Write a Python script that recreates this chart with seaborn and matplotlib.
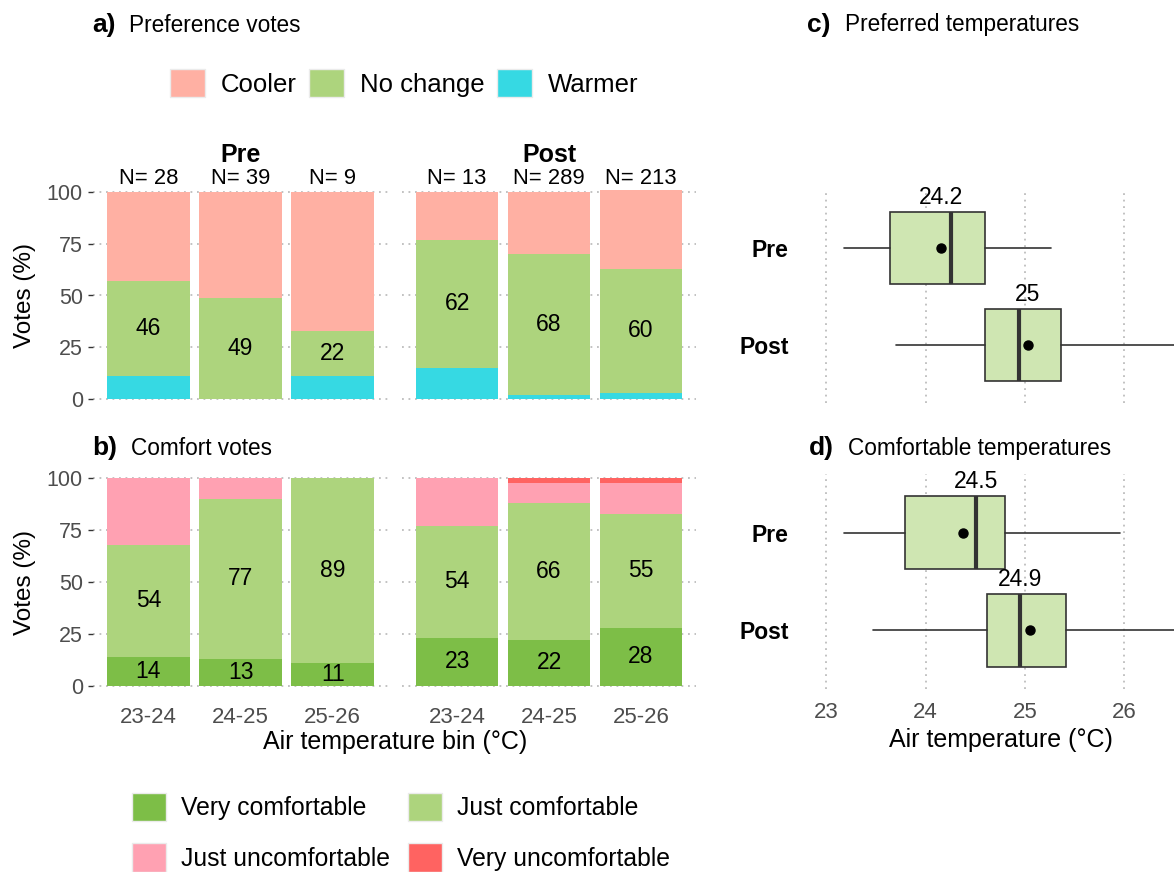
import numpy as np
import matplotlib
matplotlib.use('Agg')
import matplotlib.pyplot as plt
from matplotlib.patches import Patch
import seaborn as sns

# ---- data ----
bins = ['23-24', '24-25', '25-26']
groups = ['Pre', 'Post']
pre_n = [28, 39, 9]
post_n = [13, 289, 213]

# a) preference votes (%)
pre_warmer = [11, 0, 11]
pre_nochange = [46, 49, 22]
pre_cooler = [43, 51, 67]
post_warmer = [15, 2, 3]
post_nochange = [62, 68, 60]
post_cooler = [23, 30, 38]

# b) comfort votes (%)
pre_very_comf = [14, 13, 11]
pre_just_comf = [54, 77, 89]
pre_just_uncomf = [32, 10, 0]
pre_very_uncomf = [0, 0, 0]
post_very_comf = [23, 22, 28]
post_just_comf = [54, 66, 55]
post_just_uncomf = [23, 10, 15]
post_very_uncomf = [0, 2, 2]

# c) preferred temperatures (Pre, Post)
pref_whislo = [23.18, 23.70]
pref_q1 = [23.64, 24.60]
pref_med = [24.25, 24.94]
pref_q3 = [24.60, 25.36]
pref_whishi = [25.26, 26.80]
pref_mean = [24.15, 25.03]
pref_labels = ['24.2', '25']

# d) comfortable temperatures (Pre, Post)
comf_whislo = [23.18, 23.47]
comf_q1 = [23.79, 24.62]
comf_med = [24.51, 24.95]
comf_q3 = [24.80, 25.41]
comf_whishi = [25.96, 26.80]
comf_mean = [24.38, 25.05]
comf_labels = ['24.5', '24.9']

pref_colors = ['#36D9E3', '#ADD47D', '#FFB0A3']          # warmer, no change, cooler
comf_colors = ['#7DBE47', '#ADD47D', '#FFA1B2', '#FF6361']  # very comf .. very uncomf
box_fill = '#CFE6B2'
dark = '#333333'
grey_txt = '#4d4d4d'

sns.set_theme(style='white')
plt.rcParams['font.family'] = ['Liberation Sans', 'DejaVu Sans']
plt.rcParams['text.color'] = 'black'

W, H = 1174, 872
fig = plt.figure(figsize=(W / 100, H / 100), dpi=100)


def rect(x0, y0, x1, y1):
    return [x0 / W, 1 - y1 / H, (x1 - x0) / W, (y1 - y0) / H]


def ftext(x, y, s, **kw):
    fig.text(x / W, 1 - y / H, s, **kw)


def stacked(ax, layers, colors, label_layers, show_y, show_x):
    layers = np.array(layers, dtype=float)
    cum = np.cumsum(layers, axis=0)
    ax.yaxis.grid(True, linestyle=(0, (1, 2.6)), color='#bdbdbd', lw=1.3)
    ax.set_axisbelow(True)
    for k in reversed(range(len(layers))):
        sns.barplot(x=bins, y=cum[k], color=colors[k], width=0.9, saturation=1,
                    errorbar=None, linewidth=0, ax=ax)
    for k in label_layers:
        for i in range(len(bins)):
            ax.text(i, cum[k][i] - layers[k][i] / 2, f'{int(layers[k][i])}',
                    ha='center', va='center', fontsize=16.5, color='black')
    ax.set_xlim(-0.6, 2.6)
    ax.set_ylim(-5, 105)
    ax.set_yticks([0, 25, 50, 75, 100])
    ax.set_xlabel('')
    ax.set_ylabel('')
    for s in ax.spines.values():
        s.set_visible(False)
    if show_y:
        ax.tick_params(axis='y', left=True, length=3.6, width=1, color=dark, pad=3.6,
                       labelsize=15.5, labelcolor=grey_txt)
    else:
        ax.tick_params(axis='y', left=False, labelleft=False)
    if show_x:
        ax.tick_params(axis='x', bottom=False, labelsize=16, labelcolor=grey_txt, pad=2)
    else:
        ax.tick_params(axis='x', bottom=False, labelbottom=False)


# ---- a) preference votes ----
ax_a_pre = fig.add_axes(rect(93, 181.6, 388, 409.4))
ax_a_post = fig.add_axes(rect(402, 181.6, 696, 409.4))
stacked(ax_a_pre, [pre_warmer, pre_nochange, pre_cooler], pref_colors, [1], True, False)
stacked(ax_a_post, [post_warmer, post_nochange, post_cooler], pref_colors, [1], False, False)
for ax, ns in [(ax_a_pre, pre_n), (ax_a_post, post_n)]:
    for i, n in enumerate(ns):
        ax.text(i, 106.5, f'N= {n}', ha='center', va='center', fontsize=15.8, clip_on=False)
ftext(240.5, 155, 'Pre', ha='center', va='center', fontsize=18, fontweight='bold')
ftext(549, 155, 'Post', ha='center', va='center', fontsize=18, fontweight='bold')

# ---- b) comfort votes ----
ax_b_pre = fig.add_axes(rect(93, 468, 388, 696))
ax_b_post = fig.add_axes(rect(402, 468, 696, 696))
stacked(ax_b_pre, [pre_very_comf, pre_just_comf, pre_just_uncomf, pre_very_uncomf],
        comf_colors, [0, 1], True, True)
stacked(ax_b_post, [post_very_comf, post_just_comf, post_just_uncomf, post_very_uncomf],
        comf_colors, [0, 1], False, True)


# ---- c) / d) box plots ----
def boxes(ax, lo, q1, med, q3, hi, mean, labels, label_x, show_x):
    stats = [dict(whislo=lo[i], q1=q1[i], med=med[i], q3=q3[i], whishi=hi[i],
                  mean=mean[i], label=groups[i]) for i in range(2)]
    ax.xaxis.grid(True, linestyle=(0, (1, 2.6)), color='#bdbdbd', lw=1.3)
    ax.set_axisbelow(True)
    ax.bxp(stats, positions=[0, 1], widths=0.75, vert=False, patch_artist=True,
           showmeans=True, showcaps=False, showfliers=False,
           boxprops=dict(facecolor=box_fill, edgecolor=dark, linewidth=1.2),
           whiskerprops=dict(color=dark, linewidth=1.2),
           medianprops=dict(color=dark, linewidth=3),
           meanprops=dict(marker='o', markerfacecolor='black', markeredgecolor='black',
                          markersize=6.5))
    for i in range(2):
        ax.text(label_x[i], i - 0.375 - 0.03, labels[i], ha='center', va='bottom',
                fontsize=16.5, color='black')
    ax.set_xlim(22.9, 26.5)
    ax.set_ylim(1.6, -0.6)
    ax.set_xticks([23, 24, 25, 26])
    ax.set_yticks([0, 1])
    ax.set_yticklabels(groups, fontweight='bold')
    for s in ax.spines.values():
        s.set_visible(False)
    ax.tick_params(axis='y', left=False, labelsize=16.5, labelcolor='black', pad=14)
    if show_x:
        ax.tick_params(axis='x', bottom=False, labelsize=16, labelcolor=grey_txt, pad=3)
    else:
        ax.tick_params(axis='x', bottom=False, labelbottom=False)


ax_c = fig.add_axes(rect(816.4, 190, 1174, 403))
boxes(ax_c, pref_whislo, pref_q1, pref_med, pref_q3, pref_whishi, pref_mean,
      pref_labels, pref_mean, False)
ax_d = fig.add_axes(rect(816.4, 474, 1174, 689))
boxes(ax_d, comf_whislo, comf_q1, comf_med, comf_q3, comf_whishi, comf_mean,
      comf_labels, comf_med, True)

# ---- titles and axis titles ----
ftext(92, 25, 'a)', fontsize=19, fontweight='bold', va='center')
ftext(129, 25, 'Preference votes', fontsize=16.3, va='center')
ftext(92, 448, 'b)', fontsize=19, fontweight='bold', va='center')
ftext(131, 448, 'Comfort votes', fontsize=16.3, va='center')
ftext(807, 25, 'c)', fontsize=19, fontweight='bold', va='center')
ftext(845, 25, 'Preferred temperatures', fontsize=16.3, va='center')
ftext(809, 448, 'd)', fontsize=19, fontweight='bold', va='center')
ftext(848, 448, 'Comfortable temperatures', fontsize=16.3, va='center')

ftext(25, 295, 'Votes (%)', rotation=90, fontsize=17.5, ha='center', va='center')
ftext(25, 582, 'Votes (%)', rotation=90, fontsize=17.5, ha='center', va='center')
ftext(395, 742, 'Air temperature bin (°C)', fontsize=18, ha='center', va='center')
ftext(1001, 740, 'Air temperature (°C)', fontsize=18, ha='center', va='center')

# ---- legends ----
edge = '#EBEBEB'
pref_handles = [Patch(facecolor=c, edgecolor=edge, lw=1) for c in pref_colors[::-1]]
fig.legend(pref_handles, ['Cooler', 'No change', 'Warmer'], loc='center left',
           bbox_to_anchor=(170 / W, 1 - 83 / H), ncol=3, frameon=False, fontsize=18.5,
           handlelength=1.35, handleheight=1.35, handletextpad=0.62, columnspacing=0.5,
           borderpad=0, borderaxespad=0)

comf_names = ['Very comfortable', 'Just comfortable', 'Just uncomfortable', 'Very uncomfortable']
order = [0, 2, 1, 3]
comf_handles = [Patch(facecolor=comf_colors[k], edgecolor=edge, lw=1) for k in order]
fig.legend(comf_handles, [comf_names[k] for k in order], loc='upper left',
           bbox_to_anchor=(132 / W, 1 - 793 / H), ncol=2, frameon=False, fontsize=17.8,
           handlelength=1.38, handleheight=1.38, handletextpad=0.62, columnspacing=0.7,
           labelspacing=0.9, borderpad=0, borderaxespad=0)

fig.savefig('out.png', dpi=100)
